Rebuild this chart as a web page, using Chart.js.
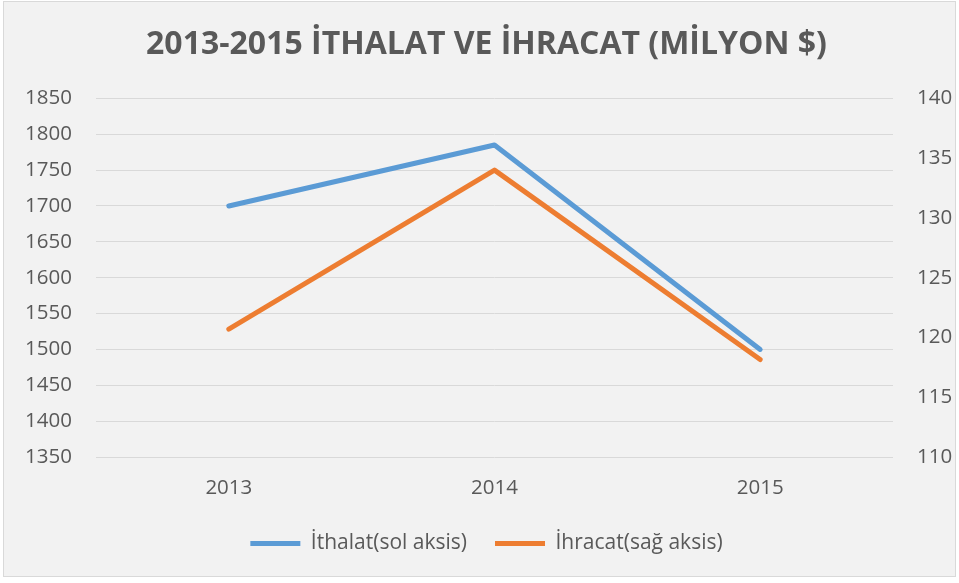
<!DOCTYPE html>
<html>
<head>
<meta charset="utf-8">
<script src="https://cdn.jsdelivr.net/npm/chart.js@4.4.0/dist/chart.umd.min.js"></script>
<style>
  body { margin: 0; background: #fff; }
  #frame { position: absolute; left: 3px; top: 1px; width: 951px; height: 574px; border: 1px solid #d9d9d9; background: #f2f2f2; }
  #chart { position: absolute; left: 0; top: 0; }
</style>
</head>
<body>
<div id="frame"></div>
<canvas id="chart" width="959" height="583"></canvas>
<script>
const years = ['2013', '2014', '2015'];
const ithalat = [1700, 1785, 1500];
const ihracat = [120.7, 134, 118.15];
const leftAxis = [1350, 1850, 50];
const rightAxis = [110, 140, 5];

const textColor = '#595959';
const fontFamily = '"Open Sans", sans-serif';
const tickFont = { family: fontFamily, size: 20.5 };

new Chart(document.getElementById('chart'), {
  type: 'line',
  data: {
    labels: years,
    datasets: [
      {
        label: 'İthalat(sol aksis)',
        data: ithalat,
        yAxisID: 'yL',
        borderColor: '#5b9bd5',
        backgroundColor: '#5b9bd5',
        borderWidth: 5,
        borderCapStyle: 'round',
        borderJoinStyle: 'round',
        pointRadius: 0,
        tension: 0
      },
      {
        label: 'İhracat(sağ aksis)',
        data: ihracat,
        yAxisID: 'yR',
        borderColor: '#ed7d31',
        backgroundColor: '#ed7d31',
        borderWidth: 5,
        borderCapStyle: 'round',
        borderJoinStyle: 'round',
        pointRadius: 0,
        tension: 0
      }
    ]
  },
  options: {
    responsive: false,
    animation: false,
    layout: { padding: { top: 0, bottom: 19, left: 14, right: 0 } },
    plugins: {
      title: {
        display: true,
        text: '2013-2015 İTHALAT VE İHRACAT (MİLYON $)',
        color: textColor,
        font: { family: fontFamily, size: 32, weight: 'bold' },
        padding: { top: 26, bottom: 34 }
      },
      legend: {
        position: 'bottom',
        labels: {
          color: textColor,
          font: { family: fontFamily, size: 21 },
          usePointStyle: true,
          pointStyle: 'line',
          pointStyleWidth: 50,
          padding: 28
        }
      },
      tooltip: { enabled: false }
    },
    scales: {
      x: {
        offset: true,
        grid: { display: false, drawTicks: false },
        border: { display: false },
        ticks: { color: textColor, font: tickFont, padding: 19 },
        afterFit: s => { s.height = 48; }
      },
      yL: {
        position: 'left',
        min: leftAxis[0],
        max: leftAxis[1],
        grid: { color: '#d9d9d9', lineWidth: 1, drawTicks: false },
        border: { display: false },
        ticks: { stepSize: leftAxis[2], color: textColor, font: tickFont, padding: 24, callback: v => String(v) },
        afterFit: s => { s.width = 82; }
      },
      yR: {
        position: 'right',
        min: rightAxis[0],
        max: rightAxis[1],
        grid: { drawOnChartArea: false, drawTicks: false },
        border: { display: false },
        ticks: { stepSize: rightAxis[2], color: textColor, font: tickFont, padding: 24, callback: v => String(v) },
        afterFit: s => { s.width = 66; }
      }
    }
  }
});
</script>
</body>
</html>
